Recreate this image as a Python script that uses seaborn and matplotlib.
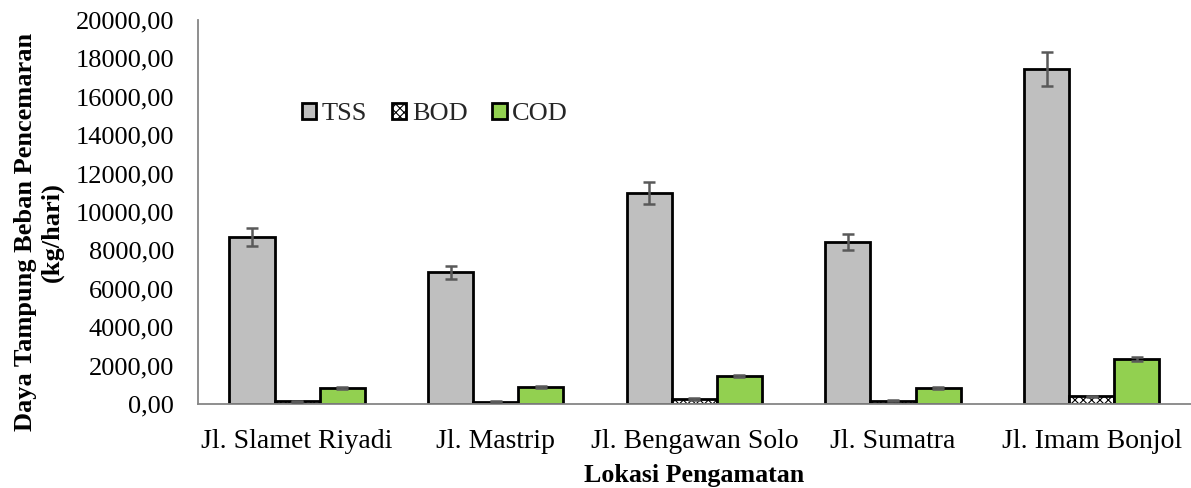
import matplotlib
matplotlib.use("Agg")
import matplotlib.pyplot as plt
import seaborn as sns
import pandas as pd
import numpy as np

locations = ["Jl. Slamet Riyadi", "Jl. Mastrip", "Jl. Bengawan Solo", "Jl. Sumatra", "Jl. Imam Bonjol"]
params = ["TSS", "BOD", "COD"]
tss = [8700, 6870, 10990, 8440, 17450]
bod = [150, 120, 270, 170, 400]
cod = [850, 900, 1475, 850, 2340]
tss_err = [450, 340, 550, 420, 880]
bod_err = [30, 25, 40, 30, 40]
cod_err = [50, 50, 60, 50, 100]
yticks = [0, 2000, 4000, 6000, 8000, 10000, 12000, 14000, 16000, 18000, 20000]

sns.set_theme(style="white")
plt.rcParams["font.family"] = ["Liberation Serif", "DejaVu Serif"]
plt.rcParams["hatch.linewidth"] = 0.8

rows = []
for p, vals in zip(params, [tss, bod, cod]):
    for loc, v in zip(locations, vals):
        rows.append({"Lokasi": loc, "Param": p, "Nilai": v})
df = pd.DataFrame(rows)

fig = plt.figure(figsize=(11.91, 4.88), dpi=100)
ax = fig.add_axes([0.166, 0.172, 0.834, 0.787])

palette = {"TSS": "#BFBFBF", "BOD": "#FFFFFF", "COD": "#92D050"}
sns.barplot(data=df, x="Lokasi", y="Nilai", hue="Param", order=locations,
            hue_order=params, palette=palette, errorbar=None, width=0.68,
            saturation=1, edgecolor="black", linewidth=2, ax=ax, legend=True)

errs = [tss_err, bod_err, cod_err]
for cont, p, e in zip(ax.containers, params, errs):
    xs = [b.get_x() + b.get_width() / 2 for b in cont]
    hs = [b.get_height() for b in cont]
    if p == "BOD":
        for b in cont:
            b.set_hatch("xxxx")
            b.set_edgecolor("black")
    ax.errorbar(xs, hs, yerr=e, fmt="none", ecolor="#595959", elinewidth=1.8,
                capsize=4.5, capthick=1.8, zorder=5)

ax.set_ylim(0, 20000)
ax.set_xlim(-0.5, 4.5)
ax.set_yticks(yticks)
ax.set_yticklabels([f"{v:.2f}".replace(".", ",") for v in yticks], fontsize=19)
ax.tick_params(axis="x", labelsize=20, length=0, pad=18)
ax.tick_params(axis="y", length=0, pad=17)
for t in ax.get_xticklabels() + ax.get_yticklabels():
    t.set_color("black")
ax.set_xlabel("Lokasi Pengamatan", fontsize=18.7, fontweight="bold", labelpad=7, color="black")
ax.set_ylabel("")
fig.text(39 / 1191, 1 - 232 / 488, "Daya Tampung Beban Pencemaran\n(kg/hari)",
         rotation=90, ha="center", va="center", fontsize=19, fontweight="bold",
         linespacing=1.2, color="black")

for s in ["top", "right"]:
    ax.spines[s].set_visible(False)
for s in ["left", "bottom"]:
    ax.spines[s].set_color("#868686")
    ax.spines[s].set_linewidth(1.3)

handles, labels = ax.get_legend_handles_labels()
for h, p in zip(handles, params):
    h.set_linewidth(2)
    if p == "BOD":
        h.set_hatch("xxxx")
leg = ax.legend(handles, labels, loc="center left",
                bbox_to_anchor=(104 / 993, 1 - (114 - 20) / 384),
                ncol=3, frameon=False, fontsize=19, handlelength=0.55,
                handleheight=0.55, handletextpad=0.2, columnspacing=0.95,
                borderaxespad=0, borderpad=0)

fig.savefig("out.png", dpi=100)
